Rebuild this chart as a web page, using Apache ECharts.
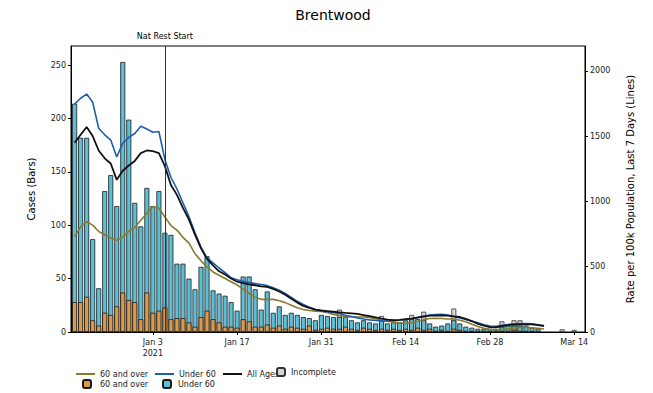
<!DOCTYPE html>
<html>
<head>
<meta charset="utf-8">
<title>Brentwood</title>
<script src="https://cdn.jsdelivr.net/npm/echarts@6/dist/echarts.min.js"></script>
<style>
    html, body { margin: 0; padding: 0; background: #fff; }
    #chart { width: 653px; height: 393px; }
</style>
</head>
<body>
<div id="chart"></div>
<script>
// one value per day, first day = 21 Dec 2020

// cases (bars)
var over60Cases = [28,28,33,11,6,18,16,24,37,30, 28,12,37,18,20,23,12,13,13,9,
    5,14,20,12,9,5,5,4,12,10, 5,5,7,4,6,3,5,4,3,6,
    2,3,4,3,3,5,3,2,4,3, 2,3,2,3,2,3,2,4,2,3,
    1,2,1,3,2,1,1,1,1,1, 0,1,1,2,1,1,1,0,null,null, null,null,null,null];
var under60Cases = [186,154,149,76,35,114,131,94,216,169, 93,87,98,100,112,70,79,51,51,41,
    35,47,51,27,27,29,23,16,40,42, 35,16,31,14,18,13,13,12,11,7,
    9,13,11,11,11,9,8,7,7,6, 6,8,6,6,7,8,10,8,9,5,
    4,4,7,8,6,4,3,2,2,2, 2,4,5,4,5,5,3,3,null,null, null,null,null,null];
// total including incomplete days (grey boxes)
var incompleteDays = [44, 51, 56, 58, 63, 71, 73, 74, 81, 83];
var incompleteTotals = [21, 15, 16, 19, 22, 10, 11, 11, 2.5, 2];

// rate per 100k, last 7 days (lines)
var rate60 = [730,805,845,818,770,745,720,703,728,770, 800,856,910,960,950,880,815,780,725,680,
    600,545,498,460,435,410,385,360,330,295, 265,250,250,250,240,225,205,185,172,165,
    160,158,150,135,125,118,115,115,115,112, 100,90,82,75,70,66,72,82,95,103,
    104,103,100,100,90,78,60,42,28,20, 18,18,22,30,34,34,33,28,23];
var rateUnder60 = [1745,1790,1822,1760,1560,1510,1470,1340,1445,1490, 1520,1575,1555,1530,1535,1320,1185,1095,990,883,
    760,650,565,530,490,455,415,400,388,378, 371,364,355,338,320,295,265,235,210,190,
    172,160,155,150,140,128,118,108,100,93, 88,85,84,86,90,96,104,112,122,130,
    134,135,130,118,108,95,82,70,56,45, 44,52,58,62,64,64,62,56,50];
var rateAll = [1450,1510,1570,1500,1390,1330,1290,1165,1235,1275, 1310,1370,1390,1385,1370,1270,1125,1050,950,860,
    745,640,560,510,465,440,410,385,375,365, 358,350,345,330,310,285,255,225,200,185,
    172,165,160,155,150,146,143,138,130,122, 112,102,95,90,93,98,103,110,118,125,
    126,128,126,120,115,100,84,62,48,38, 35,45,52,57,59,59,58,52,45];

var tickDays = [13, 27, 41, 55, 69, 83];
var tickLabels = ["Jan 3\n2021", "Jan 17", "Jan 31", "Feb 14", "Feb 28", "Mar 14"];
var caseTicks = [0, 50, 100, 150, 200, 250];
var rateTicks = [0, 500, 1000, 1500, 2000];
var lockdownDay = 15;   // 5 Jan

var legendText = {
    r60: "60 and over", rU60: "Under 60", rAll: "All Ages", inc: "Incomplete",
    c60: "60 and over", cU60: "Under 60"
};

function pairs(arr) {
    return arr.map(function (v, i) { return [i, v]; });
}

// teal bar is drawn to the day total, brown bar drawn over its lower part
var dayTotals = under60Cases.map(function (v, i) {
    return v == null ? null : v + (over60Cases[i] || 0);
});
var incData = incompleteDays.map(function (d, i) { return [d, incompleteTotals[i]]; });

var font = "DejaVu Sans";
var myChart = echarts.init(document.getElementById("chart"), null, {renderer: "svg"});

function legendItem(name, left, top, w, h, pad, icon) {
    var lg = {
        data: [name],
        left: left, top: top,
        padding: 0,
        itemWidth: w, itemHeight: h,
        selectedMode: false,
        formatter: function (n) { return legendText[n]; },
        textStyle: {fontFamily: font, fontSize: 8, color: "#222", padding: [0, 0, 0, pad || 0]}
    };
    if (icon) lg.icon = icon;
    return lg;
}

var barEdge = {borderColor: "#1a1a1a", borderWidth: 0.8};

var option = {
    animation: false,
    title: {
        text: "Brentwood",
        left: 328, top: 3, textAlign: "center",
        textStyle: {fontFamily: font, fontSize: 14, fontWeight: "normal", color: "#000"}
    },
    legend: [
        legendItem("r60", 76, 370, 19, 2, 0, "rect"),
        legendItem("rU60", 155, 370, 19, 2, 0, "rect"),
        legendItem("rAll", 223, 370, 19, 2, 0, "rect"),
        legendItem("inc", 276, 367, 8, 8, 1),
        legendItem("c60", 82, 379, 8, 8, 4),
        legendItem("cU60", 162, 379, 8, 8, 2)
    ],
    grid: {
        left: 71, right: 68, top: 46, bottom: 61,
        show: true, borderColor: "#000", borderWidth: 1, backgroundColor: "transparent"
    },
    xAxis: {
        type: "value",
        min: -0.6, max: 84.8,
        axisLine: {onZero: false, lineStyle: {color: "#000"}},
        axisTick: {customValues: tickDays, length: 3, lineStyle: {color: "#000"}},
        axisLabel: {
            customValues: tickDays,
            fontFamily: font, fontSize: 8, color: "#222", margin: 5, lineHeight: 11,
            formatter: function (v) { return tickLabels[tickDays.indexOf(v)]; }
        },
        splitLine: {show: false}
    },
    yAxis: [
        {
            type: "value", min: 0, max: 268,
            name: "Cases (Bars)", nameLocation: "middle", nameGap: 35, nameRotate: 90,
            nameTextStyle: {fontFamily: font, fontSize: 10, color: "#000"},
            axisLine: {show: true, onZero: false, lineStyle: {color: "#000"}},
            axisTick: {show: true, customValues: caseTicks, length: 3, lineStyle: {color: "#000"}},
            axisLabel: {customValues: caseTicks, fontFamily: font, fontSize: 8, color: "#222", margin: 5},
            splitLine: {show: false}
        },
        {
            type: "value", min: 0, max: 2190, position: "right",
            name: "Rate per 100k Population, Last 7 Days (Lines)", nameLocation: "middle",
            nameGap: 40, nameRotate: 90,
            nameTextStyle: {fontFamily: font, fontSize: 10, color: "#000"},
            axisLine: {show: true, onZero: false, lineStyle: {color: "#000"}},
            axisTick: {show: true, customValues: rateTicks, length: 3, lineStyle: {color: "#000"}},
            axisLabel: {
                customValues: rateTicks, fontFamily: font, fontSize: 8, color: "#222", margin: 5,
                formatter: function (v) { return String(v); }
            },
            splitLine: {show: false}
        }
    ],
    series: [
        {
            name: "inc", type: "bar", barWidth: 5, barGap: "-100%",
            itemStyle: {color: "#d6d6d6", borderColor: "#333", borderWidth: 0.8},
            data: incData
        },
        {
            name: "cU60", type: "bar", barWidth: 5, barGap: "-100%",
            itemStyle: Object.assign({color: "#5cbfd8"}, barEdge),
            data: pairs(dayTotals)
        },
        {
            name: "c60", type: "bar", barWidth: 5, barGap: "-100%",
            itemStyle: Object.assign({color: "#d99a4c"}, barEdge),
            data: pairs(over60Cases)
        },
        {
            name: "r60", type: "line", yAxisIndex: 1, symbol: "none",
            lineStyle: {color: "#8a7a2e", width: 1.6}, itemStyle: {color: "#8a7a2e"},
            data: pairs(rate60)
        },
        {
            name: "rU60", type: "line", yAxisIndex: 1, symbol: "none",
            lineStyle: {color: "#1f5ea8", width: 1.6}, itemStyle: {color: "#1f5ea8"},
            data: pairs(rateUnder60)
        },
        {
            name: "rAll", type: "line", yAxisIndex: 1, symbol: "none",
            lineStyle: {color: "#111", width: 1.8}, itemStyle: {color: "#111"},
            data: pairs(rateAll),
            markLine: {
                silent: true,
                symbol: ["none", "none"],
                lineStyle: {color: "#333", width: 1, type: "solid"},
                label: {
                    show: true, position: "end", formatter: "Nat Rest Start",
                    fontFamily: font, fontSize: 8, color: "#000", distance: 6
                },
                data: [{xAxis: lockdownDay}]
            }
        }
    ]
};

myChart.setOption(option);
</script>
</body>
</html>
